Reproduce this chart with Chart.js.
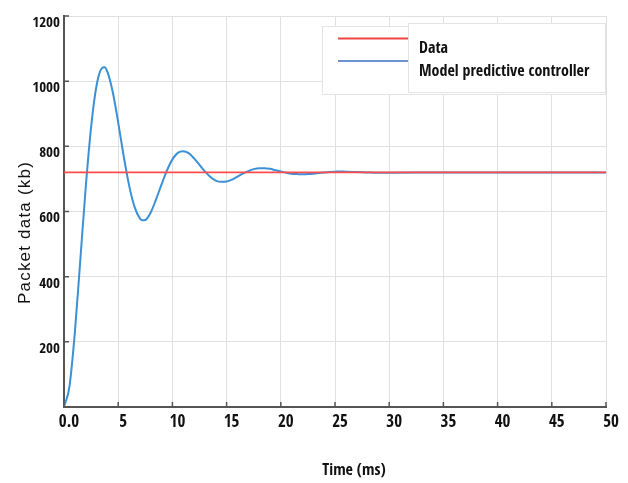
<!DOCTYPE html>
<html><head><meta charset="utf-8">
<script src="https://cdn.jsdelivr.net/npm/chart.js@4"></script>
<style>html,body{margin:0;padding:0;background:#fff}#wrap{width:628px;height:483px}</style>
</head><body><div id="wrap"><canvas id="c" width="628" height="483"></canvas></div>
<script>
// ---- data ----
const timeMs = [0,0.5,1,1.5,2,2.5,3,3.5,3.75,4,4.5,5,5.5,6,6.5,7,7.25,7.5,8,8.5,9,9.5,10,10.5,11,11.5,12,12.5,13,13.5,14,14.5,15,15.5,16,16.5,17,17.5,18,18.5,19,19.5,20,20.5,21,21.5,22,22.5,23,23.5,24,24.5,25,25.5,26,27,28,29,30,35,40,45,50];
const controllerKb = [0,62,228,449,672,859,986,1040,1043,1029,966,873,771,681,615,579,573,574,597,638,683,726,760,780,785,779,763,743,723,706,695,691,692,698,707,716,724,730,733,733,731,727,723,719,716,715,714,715,716,718,720,721,722,723,722,721,720,719,719,720,720,720,720];
const dataTimeMs = [0, 50];
const dataKb = [720, 720];
const seriesLabels = ['Data', 'Model predictive controller'];
const xTitle = 'Time (ms)';
const yTitle = 'Packet data (kb)';

const NARROW = "'Open Sans Condensed', 'Roboto Condensed', sans-serif";
const SANS = "'Liberation Sans', Arial, sans-serif";
const AXIS = '#555';

const decor = {
  id: 'decor',
  afterDraw(chart) {
    const ctx = chart.ctx, a = chart.chartArea;
    const xs = chart.scales.x, ys = chart.scales.y;
    ctx.save();
    // inward tick marks
    ctx.strokeStyle = AXIS; ctx.lineWidth = 1.5;
    ctx.beginPath();
    xs.ticks.forEach(t => { const p = xs.getPixelForValue(t.value); ctx.moveTo(p, a.bottom); ctx.lineTo(p, a.bottom - 5); });
    ys.ticks.forEach(t => { const p = ys.getPixelForValue(t.value); ctx.moveTo(a.left, p); ctx.lineTo(a.left + 5, p); });
    ctx.stroke();
    // axis titles
    ctx.fillStyle = '#111';
    ctx.font = 'bold 16px ' + NARROW;
    ctx.textAlign = 'center'; ctx.textBaseline = 'middle';
    ctx.fillText(xTitle, (a.left + a.right) / 2 + 19, a.bottom + 64);
    ctx.save();
    ctx.translate(a.left - 39, (a.top + a.bottom) / 2 + 21);
    ctx.rotate(-Math.PI / 2);
    ctx.font = '17px ' + SANS;
    try { ctx.letterSpacing = '1.2px'; } catch (e) {}
    ctx.fillText(yTitle, 0, 0);
    ctx.restore();
    // legend
    const R = a.right;
    ctx.fillStyle = '#fff'; ctx.strokeStyle = '#e4e4e4'; ctx.lineWidth = 1;
    ctx.fillRect(R - 284, 26, 283, 68); ctx.strokeRect(R - 284 + 0.5, 26.5, 283, 68);
    ctx.fillRect(R - 198, 23, 197, 69); ctx.strokeRect(R - 198 + 0.5, 23.5, 197, 69);
    const legendColors = ['#f04545', '#6b93cf'];
    const lineYs = [38.5, 61];
    const textYs = [53, 76];
    ctx.lineWidth = 2;
    ctx.font = 'bold 16px ' + NARROW; ctx.fillStyle = '#111';
    ctx.textAlign = 'left'; ctx.textBaseline = 'alphabetic';
    seriesLabels.forEach((lab, i) => {
      ctx.strokeStyle = legendColors[i];
      ctx.beginPath(); ctx.moveTo(R - 268, lineYs[i]); ctx.lineTo(R - 198, lineYs[i]); ctx.stroke();
      ctx.fillText(lab, R - 187, textYs[i]);
    });
    ctx.restore();
  }
};

new Chart(document.getElementById('c'), {
  type: 'line',
  data: {
    datasets: [
      { label: seriesLabels[0], data: dataTimeMs.map((t, i) => ({ x: t, y: dataKb[i] })),
        borderColor: '#ff4d4d', borderWidth: 1.8, pointRadius: 0 },
      { label: seriesLabels[1], data: timeMs.map((t, i) => ({ x: t, y: controllerKb[i] })),
        borderColor: '#3b90d6', borderWidth: 2, pointRadius: 0, cubicInterpolationMode: 'monotone' }
    ]
  },
  options: {
    responsive: false, animation: false, devicePixelRatio: 1,
    layout: { padding: { top: 16, right: 22, left: 0, bottom: 0 } },
    plugins: { legend: { display: false }, tooltip: { enabled: false } },
    scales: {
      x: {
        type: 'linear', min: 0, max: 50,
        ticks: { stepSize: 5, callback: v => v === 0 ? '0.0' : String(v), font: { family: NARROW, size: 17, weight: 'bold' },
                 color: '#111', padding: 5, maxRotation: 0, labelOffset: 5 },
        grid: { color: '#e0e0e0', drawTicks: false },
        border: { display: true, color: AXIS, width: 2 },
        afterFit: s => { s.height = 76; }
      },
      y: {
        type: 'linear', min: 0, max: 1200,
        ticks: { stepSize: 200, callback: v => v === 0 ? '' : String(v), font: { family: NARROW, size: 15, weight: 'bold' },
                 color: '#111', padding: 4, labelOffset: 7 },
        grid: { color: '#e0e0e0', drawTicks: false },
        border: { display: true, color: AXIS, width: 2 },
        afterFit: s => { s.width = 64; }
      }
    }
  },
  plugins: [decor]
});
</script>
</body></html>
